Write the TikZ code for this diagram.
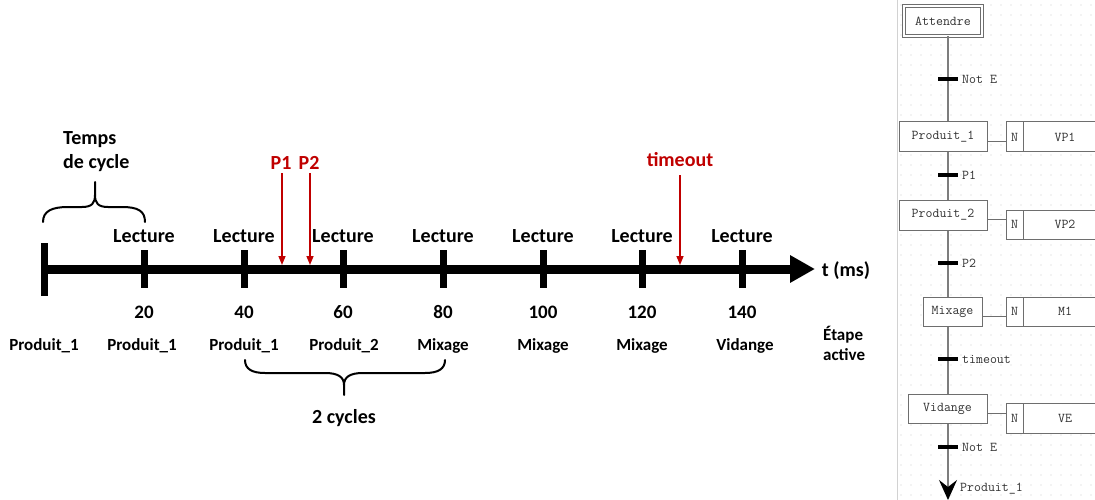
\documentclass[tikz,border=0pt]{standalone}
\usepackage{fontspec}
\setmainfont{Carlito}
\newfontfamily\monof{Latin Modern Mono}
\usetikzlibrary{arrows.meta}
\definecolor{darkred}{RGB}{192,0,0}
\definecolor{stepgray}{RGB}{110,110,110}
\definecolor{spinegray}{RGB}{125,125,125}
\definecolor{textgray}{RGB}{50,50,50}
\definecolor{dotc}{RGB}{205,205,205}
\begin{document}
\begin{tikzpicture}[x=1pt,y=-1pt,
  lab/.style={font=\bfseries\fontsize{20}{24}\selectfont, inner sep=0pt, anchor=base},
  num/.style={font=\bfseries\fontsize{19}{23}\selectfont, inner sep=0pt, anchor=base},
  prod/.style={font=\bfseries\fontsize{17}{20}\selectfont, inner sep=0pt, anchor=base},
  redlab/.style={lab, text=darkred},
  tickmark/.style={line width=7pt},
  axisline/.style={line width=9pt, -{Triangle[length=25pt,width=26pt]}},
  redarrow/.style={draw=darkred, line width=1.5pt, -{Triangle[length=9pt,width=7pt]}},
  bracepath/.style={line width=2pt, line cap=round, line join=round},
  stepbox/.style={draw=stepgray, fill=white, line width=1pt, inner sep=0pt,
     font=\monof\fontsize{13.5}{15}\selectfont, text=textgray},
  spine/.style={draw=spinegray, line width=1.6pt},
  linkline/.style={draw=stepgray, line width=1pt},
  tbar/.style={fill=black, minimum width=20pt, minimum height=3.5pt, inner sep=0pt},
  tlab/.style={font=\monof\fontsize{13.5}{15}\selectfont, text=textgray, inner sep=0pt, anchor=west}
]
\useasboundingbox (0,0) rectangle (1095,500);
\fill[white] (0,0) rectangle (1095,500);

% ---------------- timeline ----------------
\draw[axisline] (44,269) -- (815,269);
\draw[tickmark] (44,243) -- (44,296);
\foreach \x in {144,244,343,443,543,642,742}
  \draw[tickmark] (\x,250) -- (\x,288);

\foreach \x/\n in {144/l1,244/l2,343/l3,443/l4,543/l5,642/l6,742/l7}
  \node[lab] (\n) at (\x,242) {Lecture};

\foreach \x/\t/\n in {144/20/n20,244/40/n40,343/60/n60,443/80/n80,543/100/n100,642/120/n120,742/140/n140}
  \node[num] (\n) at (\x,318) {\t};

\node[prod] (s0) at (44,350) {Produit\_1};
\node[prod] (s1) at (142,350) {Produit\_1};
\node[prod] (s2) at (244,350) {Produit\_1};
\node[prod] (s3) at (344,350) {Produit\_2};
\node[prod] (s4) at (443,350) {Mixage};
\node[prod] (s5) at (543,350) {Mixage};
\node[prod] (s6) at (642,350) {Mixage};
\node[prod] (s7) at (745,350) {Vidange};
\node[prod, anchor=base west] (etape) at (823,340) {Étape};
\node[prod, anchor=base west] (active) at (823,360) {active};
\node[lab] (tms) at (846,276) {t (ms)};

% top brace
\node[lab, anchor=base west] (temps) at (63,145) {Temps};
\node[lab, anchor=base west] (decycle) at (63,168) {de cycle};
\draw[bracepath] (43,222) .. controls (43,211) and (52,207) .. (68,207) -- (82,207)
   .. controls (92,207) and (95,203) .. (95,195) -- (95,182);
\draw[bracepath] (95,195) .. controls (95,203) and (98,207) .. (108,207) -- (122,207)
   .. controls (138,207) and (145,211) .. (145,222);

% bottom brace
\draw[bracepath] (245,360) .. controls (245,369) and (252,373) .. (265,373) -- (325,373)
   .. controls (338,373) and (344,377) .. (344,385) -- (344,395);
\draw[bracepath] (344,385) .. controls (344,377) and (350,373) .. (363,373) -- (425,373)
   .. controls (438,373) and (445,369) .. (445,360);
\node[lab] (cycles) at (344,423) {2 cycles};

% red events
\coordinate (axtop) at (0,265);
\node[redlab] (p1lab) at (281,169) {P1};
\node[redlab] (p2lab) at (309,169) {P2};
\node[redlab] (tolab) at (680,167) {timeout};
\coordinate (p1s) at (282,173);
\coordinate (p2s) at (310,173);
\coordinate (tos) at (680,175);
\draw[redarrow] (p1s) -- (p1s |- axtop);
\draw[redarrow] (p2s) -- (p2s |- axtop);
\draw[redarrow] (tos) -- (tos |- axtop);

% ---------------- grafcet panel ----------------
\begin{scope}
\clip (897,0) rectangle (1095,500);
\foreach \x in {901,911,...,1091}
  \foreach \y in {5,15,...,495}
    \fill[dotc] (\x,\y) circle (0.6pt);
\draw[gray!35, line width=1pt] (897.5,0) -- (897.5,500);

\coordinate (sx) at (948,0);

\node[stepbox, minimum width=78pt, minimum height=30pt, double=white, double distance=1.5pt] (att) at (943,21) {Attendre};
\node[stepbox, minimum width=88pt, minimum height=30pt] (p1) at (943,137) {Produit\_1};
\node[stepbox, minimum width=88pt, minimum height=30pt] (p2) at (943,215) {Produit\_2};
\node[stepbox, minimum width=59pt, minimum height=29pt] (mx) at (952.5,311.5) {Mixage};
\node[stepbox, minimum width=79pt, minimum height=29pt] (vd) at (947.5,408.5) {Vidange};

\node[stepbox, minimum width=17pt, minimum height=30pt] (n1) at (1014.5,137) {N};
\node[stepbox, minimum width=17pt, minimum height=29pt] (n2) at (1014.5,224.5) {N};
\node[stepbox, minimum width=17pt, minimum height=29pt] (n3) at (1014.5,311.5) {N};
\node[stepbox, minimum width=17pt, minimum height=30pt] (n4) at (1014.5,418) {N};

\node[stepbox, minimum width=84pt, minimum height=30pt] (a1) at (1065,137) {VP1};
\node[stepbox, minimum width=84pt, minimum height=29pt] (a2) at (1065,224.5) {VP2};
\node[stepbox, minimum width=84pt, minimum height=29pt] (a3) at (1065,311.5) {M1};
\node[stepbox, minimum width=84pt, minimum height=30pt] (a4) at (1065,418) {VE};

\coordinate (k1) at (0,142);
\coordinate (k2) at (0,219);
\coordinate (k3) at (0,316);
\coordinate (k4) at (0,413);
\draw[linkline] (p1.east |- k1) -- (n1.west |- k1);
\draw[linkline] (p2.east |- k2) -- (n2.west |- k2);
\draw[linkline] (mx.east |- k3) -- (n3.west |- k3);
\draw[linkline] (vd.east |- k4) -- (n4.west |- k4);

\draw[spine] (att.south -| sx) -- (p1.north -| sx);
\draw[spine] (p1.south -| sx) -- (p2.north -| sx);
\draw[spine] (p2.south -| sx) -- (mx.north -| sx);
\draw[spine] (mx.south -| sx) -- (vd.north -| sx);
\coordinate (endpt) at (948,500);
\draw[spine, -{Stealth[length=20pt,width=18pt,inset=7pt,color=black]}] (vd.south -| sx) -- (endpt);

\node[tbar] (t1) at (948,79) {};
\node[tbar] (t2) at (948,175) {};
\node[tbar] (t3) at (948,263) {};
\node[tbar] (t4) at (948,359) {};
\node[tbar] (t5) at (948,447) {};
\node[tlab] (t1l) at (962,79) {Not E};
\node[tlab] (t2l) at (962,175) {P1};
\node[tlab] (t3l) at (962,263) {P2};
\node[tlab] (t4l) at (962,359) {timeout};
\node[tlab] (t5l) at (962,447) {Not E};
\node[tlab] (endl) at (960,489) {Produit\_1};
\end{scope}
\end{tikzpicture}
\end{document}
